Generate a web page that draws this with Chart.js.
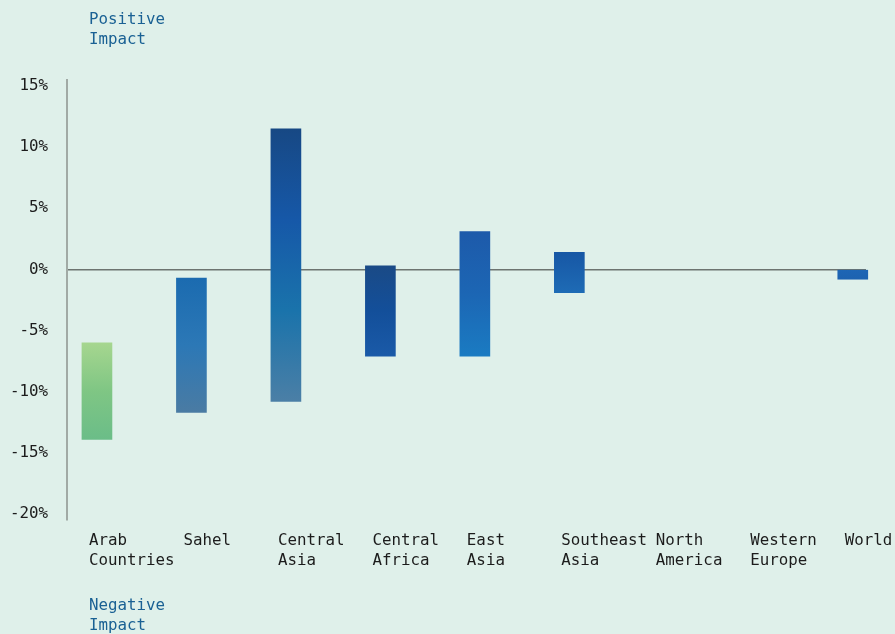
<!DOCTYPE html>
<html>
<head>
<meta charset="utf-8">
<script src="https://cdn.jsdelivr.net/npm/chart.js@4/dist/chart.umd.min.js"></script>
<style>
    html, body { margin: 0; padding: 0; background: #dff0ea; }
    #wrap { width: 895px; height: 634px; position: relative; }
</style>
</head>
<body>
<div id="wrap"><canvas id="myChart"></canvas></div>
<script>
// regions (x axis), each bar spans lowValues..highValues (percent)
var regions = [
    ["Arab", "Countries"], ["Sahel"], ["Central", "Asia"], ["Central", "Africa"],
    ["East", "Asia"], ["Southeast", "Asia"], ["North", "America"], ["Western", "Europe"], ["World"]
];
var lowValues = [-13.9, -11.7, -10.8, -7.1, -7.1, -1.9, null, null, -0.8];
var highValues = [-6.0, -0.7, 11.5, 0.3, 3.1, 1.4, null, null, 0.0];
var yTicks = [15, 10, 5, 0, -5, -10, -15, -20];

// colour stops for each bar, top -> bottom
var barColors = [
    ["#a6d68f", "#7fc684", "#6bbd88"],
    ["#1b6bb0", "#2c78b6", "#4a7ba3"],
    ["#174884", "#1658a8", "#1a73ab", "#4b7fa6"],
    ["#1a4a86", "#134f9a", "#1a5aa8"],
    ["#1d5aaa", "#1c66b4", "#1a7bc2"],
    ["#1757a5", "#1e6bb5"],
    ["#1e66b5"], ["#1e66b5"],
    ["#1e66b5", "#1d62b0"]
];

var fontFamily = "'DejaVu Sans Mono', monospace";

// build the bar data from the arrays
var barData = [];
for (var i = 0; i < regions.length; i++) {
    if (lowValues[i] === null) continue;
    barData.push({ x: i, y: [lowValues[i], highValues[i]] });
}

function barFill(ctx) {
    var chart = ctx.chart;
    if (!chart.chartArea || !ctx.raw) return "#1e66b5";
    var stops = barColors[ctx.raw.x];
    if (stops.length === 1) return stops[0];
    var yScale = chart.scales.y;
    var top = yScale.getPixelForValue(ctx.raw.y[1]);
    var bottom = yScale.getPixelForValue(ctx.raw.y[0]);
    var g = chart.ctx.createLinearGradient(0, top, 0, bottom);
    for (var s = 0; s < stops.length; s++) {
        g.addColorStop(s / (stops.length - 1), stops[s]);
    }
    return g;
}

// draws the region labels and the two impact captions
var labelPlugin = {
    id: "labelPlugin",
    afterDraw: function (chart) {
        var c = chart.ctx;
        var xScale = chart.scales.x;
        c.save();
        c.font = "15.8px " + fontFamily;
        c.textAlign = "left";
        c.textBaseline = "middle";
        c.fillStyle = "#1c1c1c";
        for (var i = 0; i < regions.length; i++) {
            var x = xScale.getPixelForValue(i) - 8;
            for (var l = 0; l < regions[i].length; l++) {
                c.fillText(regions[i][l], x, 541 + l * 19.5);
            }
        }
        c.fillStyle = "#1a6194";
        c.fillText("Positive", 89, 20);
        c.fillText("Impact", 89, 40);
        c.fillText("Negative", 89, 606);
        c.fillText("Impact", 89, 626);
        c.restore();
    }
};

function createChart() {
    var ctx = document.getElementById("myChart").getContext("2d");
    new Chart(ctx, {
        type: "bar",
        data: {
            datasets: [{
                data: barData,
                backgroundColor: barFill,
                borderWidth: 0,
                barThickness: 30,
                clip: false
            }]
        },
        options: {
            responsive: true,
            maintainAspectRatio: false,
            animation: false,
            layout: { padding: { top: 80, bottom: 114, left: 0, right: 29 } },
            plugins: { legend: { display: false }, tooltip: { enabled: false } },
            scales: {
                x: {
                    type: "linear",
                    display: false,
                    offset: false,
                    min: -0.317,
                    max: 8.14
                },
                y: {
                    min: -20.5,
                    max: 15.5,
                    afterFit: function (scale) { scale.width = 67; },
                    afterBuildTicks: function (scale) {
                        scale.ticks = yTicks.map(function (v) { return { value: v }; });
                    },
                    ticks: {
                        padding: 19,
                        color: "#1c1c1c",
                        font: { family: fontFamily, size: 15.8 },
                        callback: function (v) { return v + "%"; }
                    },
                    grid: {
                        drawTicks: false,
                        lineWidth: 1.5,
                        color: function (c) { return c.tick && c.tick.value === 0 ? "#6d7470" : "transparent"; }
                    },
                    border: { display: true, color: "#a1aaa5", width: 2 }
                }
            }
        },
        plugins: [labelPlugin]
    });
}
createChart();
</script>
</body>
</html>
